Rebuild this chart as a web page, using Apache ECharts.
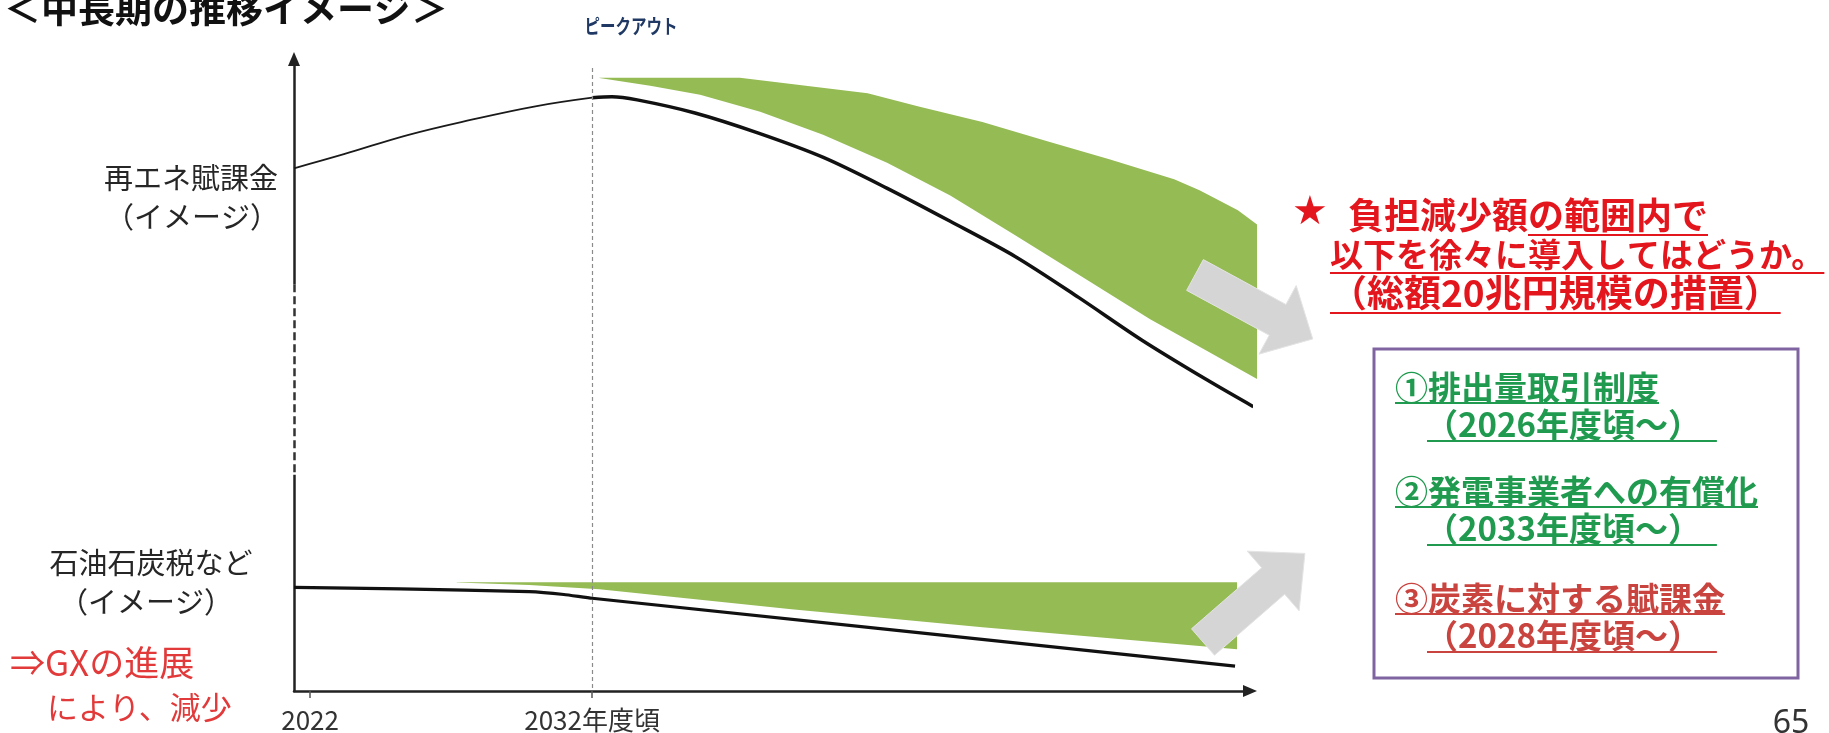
<!DOCTYPE html>
<html>
<head>
<meta charset="utf-8">
<script src="https://cdn.jsdelivr.net/npm/echarts@6/dist/echarts.min.js"></script>
<style>
html,body{margin:0;padding:0;background:#ffffff;}
#c{width:1829px;height:733px;}
</style>
</head>
<body>
<div id="c"></div>
<script>
// ---------------- data (image units: x = fiscal year, y = index) ----------------
const XMIN = 2021.43, XMAX = 2055.33, YMIN = 0, YMAX = 98.9;
const tickYears = [2022, 2032];
const tickLabels = ['2022', '2032年度頃'];

// 再エネ賦課金 – before peak (thin line)
const renewPastX = [2021.43, 2023.2, 2025.46, 2027.73, 2029.99, 2032.0];
const renewPastY = [81.8, 84.0, 87.0, 89.4, 91.5, 92.85];
// 再エネ賦課金 – after peak (thick line)
const renewFutureX = [2032.0, 2032.7, 2033.6, 2035.65, 2037.9, 2040.2, 2042.45, 2044.7, 2047.0, 2049.25, 2051.5, 2053.8, 2055.45];
const renewFutureY = [92.85, 93.0, 92.5, 90.45, 87.3, 83.5, 78.7, 73.5, 68.0, 61.6, 54.9, 48.7, 44.5];
// green band above renewables line (top edge / bottom edge)
const upGreenTopX = [2032.26, 2037.24, 2041.77, 2043.58, 2045.84, 2048.11, 2050.37, 2052.64, 2053.54, 2054.9, 2055.58];
const upGreenTopY = [95.96, 95.96, 93.54, 91.47, 89.05, 86.08, 83.18, 80.08, 78.35, 75.24, 73.0];
const upGreenBotX = [2032.26, 2034.06, 2035.83, 2037.96, 2040.19, 2042.46, 2044.7, 2046.96, 2049.23, 2051.79, 2053.81, 2055.58];
const upGreenBotY = [95.94, 94.7, 93.29, 90.64, 87.05, 82.68, 77.54, 71.45, 65.21, 58.19, 53.2, 48.83];

// 石油石炭税など
const fossilX = [2021.43, 2025.19, 2029.77, 2031.0, 2032.0, 2054.8];
const fossilY = [16.22, 15.99, 15.54, 15.1, 14.51, 3.9];
// green band above fossil line
const lowGreenTopX = [2027.2, 2054.87];
const lowGreenTopY = [17.0, 17.0];
const lowGreenBotX = [2027.2, 2029.77, 2032.26, 2039.07, 2045.84, 2050.37, 2054.87];
const lowGreenBotY = [16.98, 16.6, 15.91, 12.79, 9.98, 8.27, 6.55];

// reference marks
const peakYear = 2032, peakLineTop = 97.5;
const axisBreakFrom = 33.85, axisBreakTo = 63.65;

// ---------------- helpers ----------------
const JP = '"Noto Sans CJK JP", "Noto Sans", sans-serif';
const GREEN = '#95bb55';
const zip = (xs, ys) => xs.map((x, i) => [x, ys[i]]);
const band = (tx, ty, bx, by) => zip(tx, ty).concat(zip(bx, by).reverse());

const mctx = document.createElement('canvas').getContext('2d');
function tw(str, size, weight) {
  mctx.font = (weight || 'normal') + ' ' + size + 'px ' + JP;
  return mctx.measureText(str).width;
}
function txt(str, x, y, size, color, opt) {
  opt = opt || {};
  const el = {
    type: 'text', x: x, y: y, z: 120, silent: true,
    style: {
      text: str, fill: color, fontSize: size, fontFamily: opt.family || JP,
      fontWeight: opt.weight || 'normal',
      align: opt.align || 'left', verticalAlign: 'middle'
    }
  };
  if (opt.scaleY) el.scaleY = opt.scaleY;
  return el;
}
function uline(x1, x2, y, color, w) {
  return { type: 'line', z: 120, silent: true, shape: { x1: x1, y1: y, x2: x2, y2: y }, style: { stroke: color, lineWidth: w || 2 } };
}
function blockArrow(tx, ty, angleDeg, L, w, H, h) {
  const a = angleDeg * Math.PI / 180;
  const ux = Math.cos(a), uy = Math.sin(a), nx = -uy, ny = ux;
  const loc = [[0, -w / 2], [L, -w / 2], [L, -H / 2], [L + h, 0], [L, H / 2], [L, w / 2], [0, w / 2]];
  const pts = loc.map(p => [tx + p[0] * ux + p[1] * nx, ty + p[0] * uy + p[1] * ny]);
  return { type: 'polygon', z: 110, silent: true, shape: { points: pts }, style: { fill: '#d5d5d5', stroke: '#e4e4e4', lineWidth: 1 } };
}
function polySeries(name, pts, color) {
  return {
    type: 'custom', name: name, data: pts, clip: false, silent: true, z: 1,
    encode: { x: 0, y: 1 },
    renderItem: function (params, api) {
      if (params.dataIndex !== 0) return null;
      return { type: 'polygon', shape: { points: pts.map(p => api.coord(p)) }, style: { fill: color } };
    }
  };
}

// ---------------- annotation graphics ----------------
const RED = '#e3161d', GRN = '#1f9a4e', RED2 = '#c9433f', PURPLE = '#8064a2';
const g = [];
// title and header
g.push(txt('＜中長期の推移イメージ＞', 4, 9, 37, '#111', { weight: 'bold' }));
g.push(txt('ピークアウト', 631, 26, 15.5, '#1f3864', { weight: 'bold', align: 'center', scaleY: 1.3 }));
// left labels
g.push(txt('再エネ賦課金', 191, 178, 29, '#262626', { align: 'center' }));
g.push(txt('（イメージ）', 192, 217, 29, '#262626', { align: 'center' }));
g.push(txt('石油石炭税など', 151, 563, 29, '#262626', { align: 'center' }));
g.push(txt('（イメージ）', 146, 602, 29, '#262626', { align: 'center' }));
g.push(txt('⇒GXの進展', 10, 663, 35, '#e23a3a'));
g.push(txt('により、減少', 47, 707, 31, '#e23a3a'));
// page number
g.push(txt('65', 1791, 724, 32, '#333', { align: 'center', family: '"Noto Sans", sans-serif' }));

// red proposal text
g.push(txt('★', 1310, 214, 40, RED, { align: 'center', family: '"DejaVu Sans", sans-serif' }));
const l1a = '負担減少額', l1 = '負担減少額の範囲内で';
const l2 = '以下を徐々に導入してはどうか。';
const l3 = '（総額20兆円規模の措置）';
g.push(txt(l1, 1348, 215, 36, RED, { weight: 'bold' }));
g.push(uline(1348 + tw(l1a, 36, 'bold'), 1348 + tw(l1, 36, 'bold'), 235, RED, 2));
g.push(txt(l2, 1330, 254, 33, RED, { weight: 'bold' }));
g.push(uline(1330, 1330 + tw(l2, 33, 'bold'), 273, RED, 2));
g.push(txt(l3, 1330, 293, 37, RED, { weight: 'bold' }));
g.push(uline(1330, 1330 + tw(l3, 37, 'bold'), 313, RED, 2));

// purple box with measures
g.push({ type: 'rect', z: 100, silent: true, shape: { x: 1374, y: 349, width: 424, height: 329 }, style: { fill: '#fff', stroke: PURPLE, lineWidth: 3 } });
const items = [
  ['①排出量取引制度', '（2026年度頃～）', GRN, 387],
  ['②発電事業者への有償化', '（2033年度頃～）', GRN, 491],
  ['③炭素に対する賦課金', '（2028年度頃～）', RED2, 598]
];
items.forEach(function (it) {
  const y1 = it[3], y2 = it[3] + 37;
  g.push(txt(it[0], 1395, y1, 33, it[2], { weight: 'bold' }));
  g.push(uline(1395, 1395 + tw(it[0], 33, 'bold'), y1 + 16, it[2], 2));
  g.push(txt(it[1], 1425, y2, 33, it[2], { weight: 'bold' }));
  g.push(uline(1427, 1427 + tw(it[1], 33, 'bold') + 14, y2 + 17, it[2], 2));
});

// grey block arrows
g.push(blockArrow(1195, 275, 28.5, 94, 35, 78, 40));
g.push(blockArrow(1203, 642, -41, 93, 35, 79, 42));

// ---------------- chart ----------------
const chart = echarts.init(document.getElementById('c'), null, { renderer: 'canvas' });
chart.setOption({
  animation: false,
  backgroundColor: '#ffffff',
  grid: { left: 294, right: 579, top: 59, bottom: 40 },
  xAxis: {
    type: 'value', min: XMIN, max: XMAX,
    axisLine: { show: true, symbol: ['none', 'triangle'], symbolSize: [12, 14], lineStyle: { color: '#222', width: 2.5 } },
    axisTick: { show: true, customValues: tickYears, length: 7, lineStyle: { color: '#555', width: 1.5 } },
    axisLabel: {
      show: true, customValues: tickYears, margin: 16, color: '#333', fontSize: 26, lineHeight: 26,
      fontFamily: JP, formatter: function (v) { const i = tickYears.indexOf(Math.round(v)); return i >= 0 ? tickLabels[i] : ''; }
    },
    splitLine: { show: false }
  },
  yAxis: {
    type: 'value', min: YMIN, max: YMAX,
    axisLine: { show: true, symbol: ['none', 'triangle'], symbolSize: [12, 14], lineStyle: { color: '#222', width: 2.5 } },
    axisTick: { show: false }, axisLabel: { show: false }, splitLine: { show: false }
  },
  series: [
    polySeries('upperGreen', band(upGreenTopX, upGreenTopY, upGreenBotX, upGreenBotY), GREEN),
    polySeries('lowerGreen', band(lowGreenTopX, lowGreenTopY, lowGreenBotX, lowGreenBotY), GREEN),
    {
      type: 'line', name: 'renewPast', data: zip(renewPastX, renewPastY), smooth: 0.4, symbol: 'none', clip: false, z: 3,
      lineStyle: { color: '#1a1a1a', width: 1.8 },
      markLine: {
        silent: true, symbol: ['none', 'none'], label: { show: false }, animation: false,
        data: [[{ coord: [XMIN, axisBreakTo], lineStyle: { color: '#ffffff', width: 6, type: 'solid' } }, { coord: [XMIN, axisBreakFrom] }]]
      }
    },
    {
      type: 'line', name: 'renewFuture', data: zip(renewFutureX, renewFutureY), smooth: 0.3, symbol: 'none', clip: false, z: 4,
      lineStyle: { color: '#111', width: 3.5 },
      markLine: {
        silent: true, symbol: ['none', 'none'], label: { show: false }, animation: false,
        data: [
          [{ coord: [XMIN, axisBreakTo], lineStyle: { color: '#333', width: 2.5, type: [8, 4] } }, { coord: [XMIN, axisBreakFrom] }],
          [{ coord: [peakYear, peakLineTop], lineStyle: { color: '#8a8a8a', width: 1.2, type: [4, 3] } }, { coord: [peakYear, 0] }]
        ]
      }
    },
    {
      type: 'line', name: 'fossil', data: zip(fossilX, fossilY), smooth: 0.15, symbol: 'none', clip: false, z: 4,
      lineStyle: { color: '#111', width: 3.2 }
    }
  ],
  graphic: g
});
</script>
</body>
</html>
